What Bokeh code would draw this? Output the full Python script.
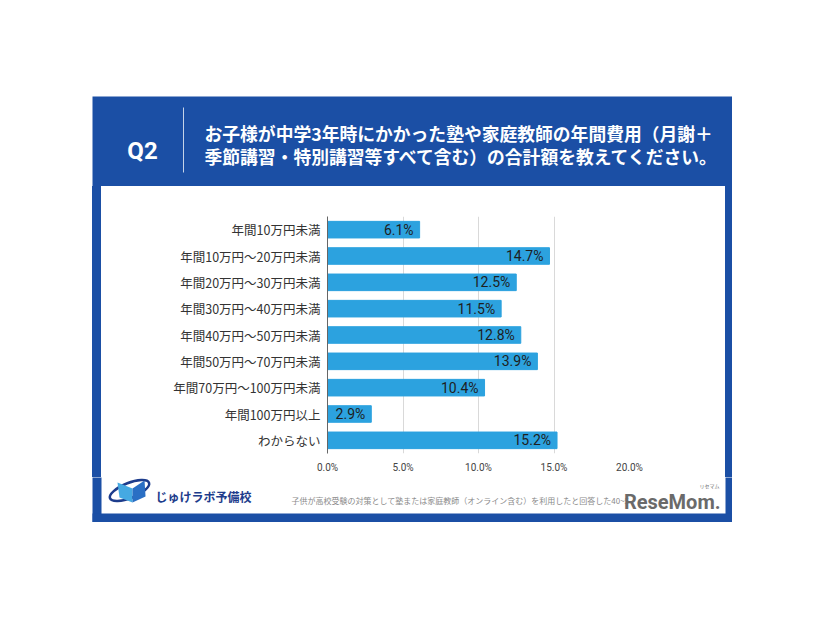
from bokeh.plotting import figure
from bokeh.layouts import column, row
from bokeh.models import FactorRange, Range1d, FixedTicker, ColumnDataSource, Spacer
from bokeh.core.properties import value
from bokeh.embed import file_html
from bokeh.resources import INLINE

# ---------------- data ----------------
categories = ["年間10万円未満", "年間10万円～20万円未満", "年間20万円～30万円未満",
              "年間30万円～40万円未満", "年間40万円～50万円未満", "年間50万円～70万円未満",
              "年間70万円～100万円未満", "年間100万円以上", "わからない"]
values = [6.1, 14.7, 12.5, 11.5, 12.8, 13.9, 10.4, 2.9, 15.2]
value_labels = [f"{v:.1f}%" for v in values]
tick_values = [0, 5, 10, 15, 20]
tick_labels = ["0.0%", "5.0%", "10.0%", "15.0%", "20.0%"]
question = "Q2"
title_lines = ["お子様が中学3年時にかかった塾や家庭教師の年間費用（月謝＋",
               "季節講習・特別講習等すべて含む）の合計額を教えてください。"]
brand = "じゅけラボ予備校"
footnote = "子供が高校受験の対策として塾または家庭教師（オンライン含む）を利用したと回答した40~5"
watermark = "ReseMom."
watermark_kana = "リセマム"

# ---------------- colours ----------------
FRAME_BLUE = "#1b4fa5"
BAR_BLUE = "#2ca2df"
NAVY = "#1d3c8c"


def deco(x0, y0, w, h, bg):
    """A plain figure whose data coordinates equal page pixels (y downwards)."""
    f = figure(width=w, height=h, x_range=Range1d(x0, x0 + w), y_range=Range1d(y0 + h, y0),
               min_border=0, x_axis_location=None, y_axis_location=None,
               output_backend="svg", toolbar_location=None)
    f.outline_line_color = None
    f.grid.visible = False
    f.background_fill_color = bg
    f.border_fill_color = bg
    return f


# ---------------- header (blue) ----------------
head = deco(92, 96, 640, 90, FRAME_BLUE)
head.text(x=[142], y=[150], text=[question], text_align="center", text_baseline="middle",
          text_font=value("Roboto"), text_font_style="bold", text_font_size="24px",
          text_color="white")
head.segment(x0=[183], y0=[107], x1=[183], y1=[172], line_color="white", line_alpha=0.75,
             line_width=1)
head.text(x=[204, 204], y=[132, 155.5], text=title_lines, text_align="left",
          text_baseline="middle", text_font=value("Noto Sans CJK JP"),
          text_font_style="bold", text_font_size="17.8px", text_color="white")

# ---------------- chart ----------------
src = ColumnDataSource(dict(cat=categories, val=values, lab=value_labels))
p = figure(y_range=FactorRange(factors=categories[::-1]), x_range=Range1d(0, 20),
           width=624, height=291,
           min_border_left=226, min_border_right=96, min_border_top=30, min_border_bottom=24,
           output_backend="svg", toolbar_location=None)
p.outline_line_color = None
p.background_fill_color = "white"
p.border_fill_color = "white"

p.hbar(y="cat", left=0, right="val", height=0.63, source=src,
       fill_color=BAR_BLUE, line_color=BAR_BLUE)
p.text(x="val", y="cat", text="lab", source=src, x_offset=-6,
       text_align="right", text_baseline="middle", text_font=value("Roboto"),
       text_font_size="14px", text_color="#1e1e1e")

p.xaxis.ticker = FixedTicker(ticks=tick_values)
p.xaxis.major_label_overrides = {t: l for t, l in zip(tick_values, tick_labels)}
p.xaxis.axis_line_color = None
p.xaxis.major_tick_line_color = None
p.xaxis.minor_tick_line_color = None
p.xaxis.major_tick_out = 0
p.xaxis.major_tick_in = 0
p.xaxis.major_label_text_font = "Roboto"
p.xaxis.major_label_text_font_size = "10px"
p.xaxis.major_label_text_color = "#444444"
p.xaxis.major_label_standoff = 8

p.yaxis.axis_line_color = "#666666"
p.yaxis.major_tick_line_color = None
p.yaxis.minor_tick_line_color = None
p.yaxis.major_tick_out = 0
p.yaxis.major_tick_in = 0
p.yaxis.major_label_text_font = "Noto Sans CJK JP"
p.yaxis.major_label_text_font_size = "12.5px"
p.yaxis.major_label_text_color = "#333333"
p.yaxis.major_label_standoff = 7

p.ygrid.grid_line_color = None
p.xgrid.ticker = FixedTicker(ticks=tick_values)
p.xgrid.grid_line_color = "#d9d9d9"

# ---------------- footer (white panel bottom + blue edges) ----------------
foot = deco(92, 477, 640, 45, "white")
foot.quad(left=[80, 725, 80], right=[101, 745, 745], top=[460, 460, 513],
          bottom=[540, 540, 540], fill_color=FRAME_BLUE, line_color=None)
foot.ellipse(x=[129], y=[490], width=[42], height=[15], angle=[0.38],
             fill_color=None, line_color=NAVY, line_width=2.5)
foot.patch(x=[117, 132, 132, 119], y=[482, 488, 502, 497], fill_color="#45a9e2",
           line_color=None)
foot.patch(x=[132, 144, 145, 132], y=[488, 480, 496, 502], fill_color="#2a6fc4",
           line_color=None)
foot.text(x=[155], y=[496], text=[brand], text_align="left", text_baseline="middle",
          text_font=value("Noto Sans CJK JP"), text_font_style="bold",
          text_font_size="12px", text_color=NAVY)
foot.text(x=[291], y=[500], text=[footnote], text_align="left", text_baseline="middle",
          text_font=value("Noto Sans CJK JP"), text_font_size="8px", text_color="#8a8a8a")
foot.text(x=[720], y=[501], text=[watermark], text_align="right", text_baseline="middle",
          text_font=value("Roboto"), text_font_style="bold", text_font_size="20px",
          text_color="#6a6a6a")
foot.text(x=[709], y=[485], text=[watermark_kana], text_align="center",
          text_baseline="middle", text_font=value("Noto Sans CJK JP"),
          text_font_size="5px", text_color="#6a6a6a")

# ---------------- side edges of the blue frame ----------------
left_edge = Spacer(width=9, height=291, styles={"background-color": FRAME_BLUE})
right_edge = Spacer(width=7, height=291, styles={"background-color": FRAME_BLUE})

layout = column(
    Spacer(height=96),
    row(Spacer(width=92), head),
    row(Spacer(width=92), left_edge, p, right_edge),
    row(Spacer(width=92), foot),
)

open("out.html", "w").write(file_html(layout, INLINE))
